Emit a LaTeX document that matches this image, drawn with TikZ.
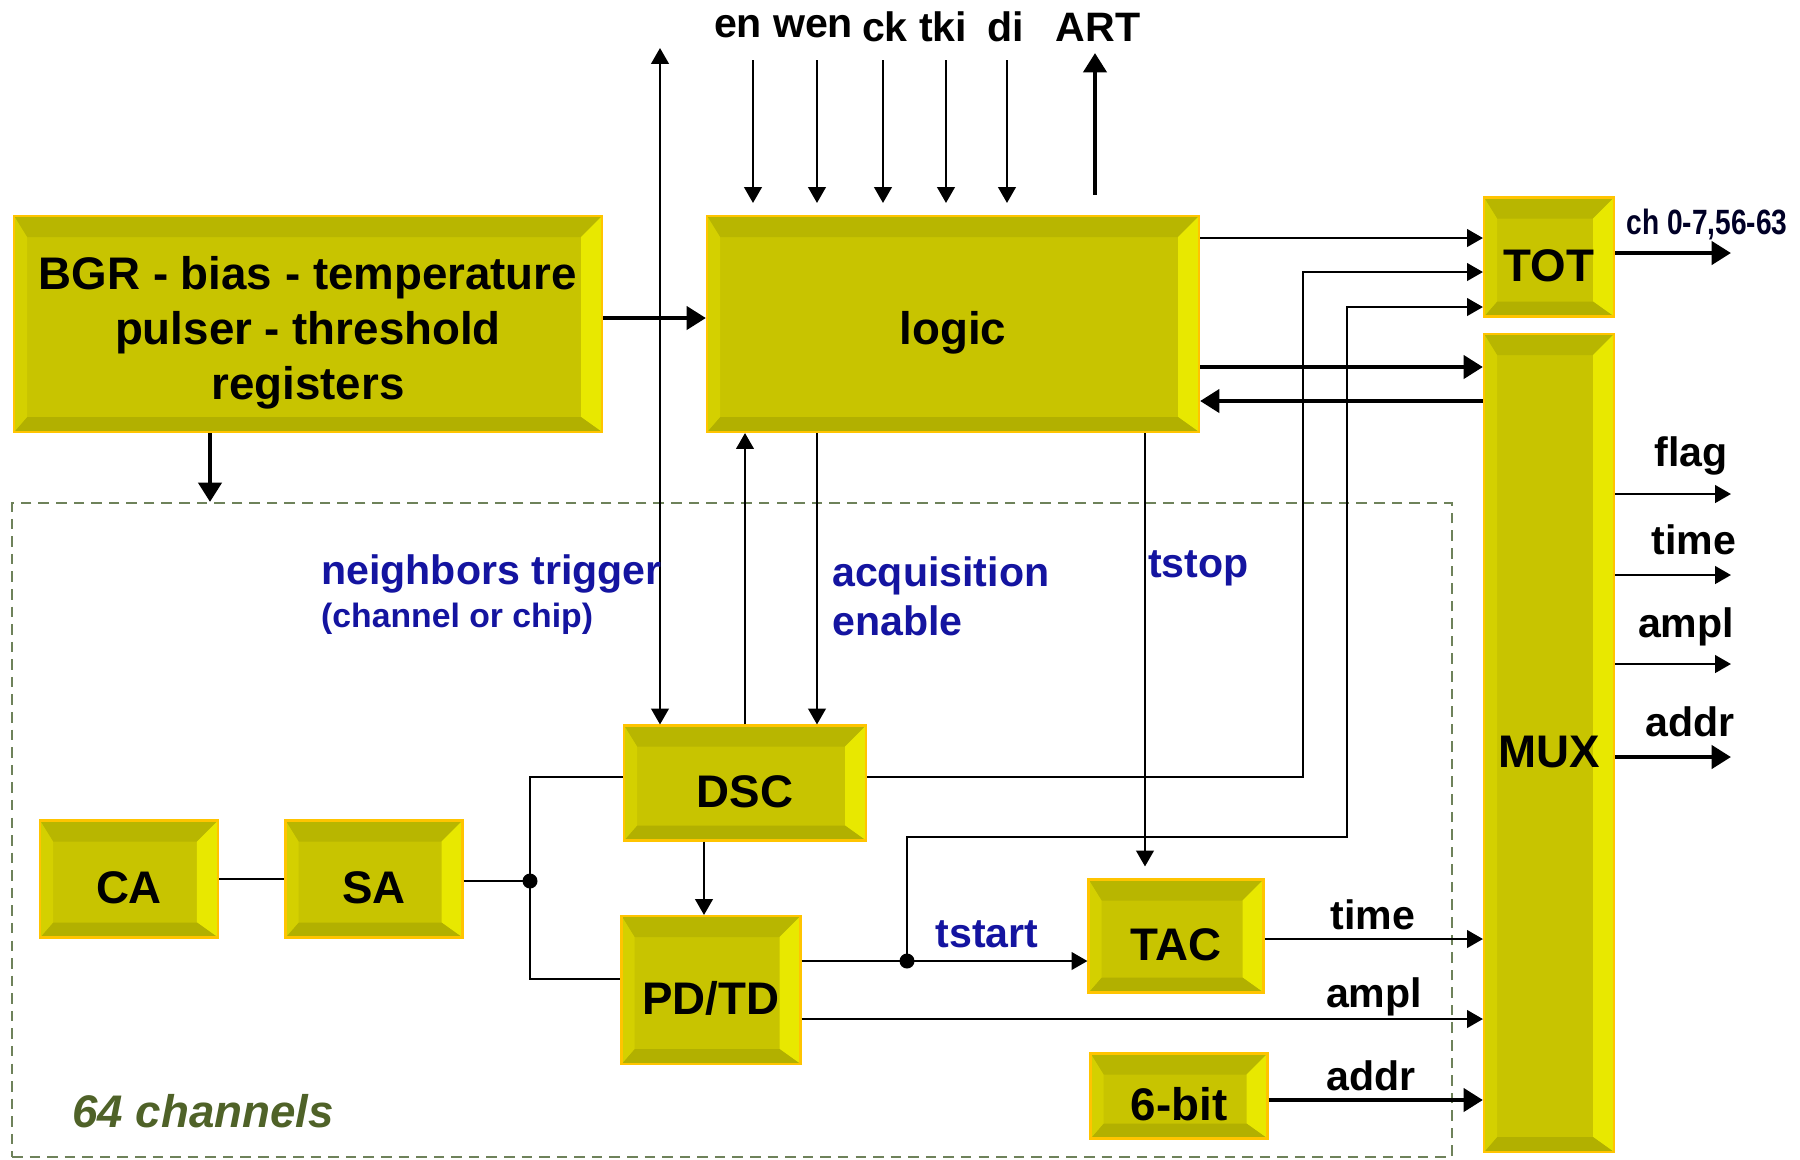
\documentclass[tikz,border=0pt]{standalone}
\usepackage{fontspec}
\setmainfont{Liberation Sans}
\newfontfamily\narrowfont[FakeStretch=0.8]{Liberation Sans}
\usepackage{tikz}
\usetikzlibrary{arrows.meta, positioning, calc}

\definecolor{bvface}{RGB}{200,196,0}
\definecolor{bvtop}{RGB}{184,182,0}
\definecolor{bvright}{RGB}{232,232,0}
\definecolor{bvleft}{RGB}{212,208,0}
\definecolor{bvbot}{RGB}{178,176,0}
\definecolor{bvedge}{RGB}{255,196,0}
\definecolor{sigblue}{RGB}{20,20,160}
\definecolor{chgreen}{RGB}{79,98,40}
\definecolor{dashgreen}{RGB}{110,130,90}

\begin{document}
\begin{tikzpicture}[
  blk/.style={fill=bvface, draw=bvedge, line width=0.6pt, inner sep=0pt, align=center,
    font=\fontsize{13}{15.6}\selectfont\bfseries,
    execute at begin node={\rule{0pt}{1.1em}},
    path picture={
      \path (path picture bounding box.south west) coordinate (b1)
            (path picture bounding box.north east) coordinate (b2)
            ($(b1)+(0.13,0.15)$) coordinate (i1)
            ($(b2)+(-0.21,-0.21)$) coordinate (i2);
      \fill[bvtop] (b1 |- b2) -- (b2) -- (i2) -- (i1 |- i2) -- cycle;
      \fill[bvright] (b2) -- (b2 |- b1) -- (i2 |- i1) -- (i2) -- cycle;
      \fill[bvbot] (b2 |- b1) -- (b1) -- (i1) -- (i2 |- i1) -- cycle;
      \fill[bvleft] (b1) -- (b1 |- b2) -- (i1 |- i2) -- (i1) -- cycle;
    }},
  wire/.style={line width=0.6pt},
  arr/.style={-{Triangle[length=4.5pt,width=5pt]}, line width=0.6pt},
  thkarr/.style={-{Triangle[length=5.5pt,width=6.5pt]}, line width=1.3pt},
  dblarr/.style={{Triangle[length=4.5pt,width=5pt]}-{Triangle[length=4.5pt,width=5pt]}, line width=0.6pt},
  siglbl/.style={font=\fontsize{11.7}{14}\selectfont\bfseries, inner sep=1pt},
  bluelbl/.style={siglbl, text=sigblue, align=left},
  chanbox/.style={draw=dashgreen, dash pattern=on 3pt off 2pt, line width=0.6pt, inner sep=0pt},
]
\useasboundingbox (0,0) rectangle (18,-11.59);

% channel area
\node[chanbox, minimum width=14.40cm, minimum height=6.54cm] (chan) at (7.32,-8.30) {};
\node[font=\fontsize{13}{15}\selectfont\bfseries\itshape, text=chgreen, anchor=west] (nch) at (0.60,-11.11) {64 channels};

% blocks
\node[blk, minimum width=5.88cm, minimum height=2.16cm] (bgr) at (3.08,-3.24) {\rule{0pt}{1.1em}BGR - bias - temperature\\pulser - threshold\\registers};
\node[blk, minimum width=4.92cm, minimum height=2.16cm] (logic) at (9.53,-3.24) {logic};
\node[blk, minimum width=1.30cm, minimum height=1.19cm] (tot) at (15.49,-2.57) {TOT};
\node[blk, minimum width=1.30cm, minimum height=8.18cm] (mux) at (15.49,-7.43) {MUX};
\node[blk, minimum width=2.42cm, minimum height=1.15cm] (dsc) at (7.45,-7.83) {DSC};
\node[blk, minimum width=1.78cm, minimum height=1.17cm] (ca) at (1.29,-8.79) {CA};
\node[blk, minimum width=1.77cm, minimum height=1.17cm] (sa) at (3.74,-8.79) {SA};
\node[blk, minimum width=1.79cm, minimum height=1.48cm] (pdtd) at (7.11,-9.90) {PD/TD};
\node[blk, minimum width=1.75cm, minimum height=1.13cm] (tac) at (11.76,-9.36) {TAC};
\node[blk, minimum width=1.77cm, minimum height=0.85cm] (sixbit) at (11.79,-10.96) {6-bit};

% interface signals
\foreach \sig/\lx/\ax in {en/7.38/7.53, wen/8.13/8.17, ck/8.85/8.83, tki/9.43/9.46, di/10.06/10.07} {
  \node[siglbl] (\sig) at (\lx,-0.27) {\sig};
  \coordinate (\sig top) at (\ax,-0.60);
  \draw[arr, shorten >=0.12cm] (\sig top) -- (\sig top |- logic.north);
}
\node[siglbl] (art) at (10.98,-0.27) {ART};
\coordinate (arttop) at (10.95,-0.53);
\draw[thkarr, shorten <=0.2cm] (arttop |- logic.north) -- (arttop);

% top level connections
\draw[thkarr] ([yshift=0.6mm]bgr.east) -- ([yshift=0.6mm]logic.west);
\draw[thkarr] (2.10,0 |- bgr.south) -- (2.10,0 |- chan.north);
\draw[arr] (logic.east |- 0,-2.38) -- (tot.west |- 0,-2.38);
\draw[thkarr] (logic.east |- 0,-3.67) -- (mux.west |- 0,-3.67);
\draw[thkarr] (mux.west |- 0,-4.01) -- (logic.east |- 0,-4.01);
\draw[thkarr] (tot.east |- 0,-2.53) -- (17.31,-2.53);
\node[font=\narrowfont\fontsize{10}{12}\selectfont\bfseries, text=black!85!blue] (chlbl) at (17.07,-2.24) {ch 0-7,56-63};

% mux outputs
\foreach \y/\ly/\lx/\out in {-4.94/-4.56/16.91/flag, -5.75/-5.40/16.94/time, -6.64/-6.27/16.86/ampl} {
  \draw[arr] (mux.east |- 0,\y) -- (17.31,\y);
  \node[siglbl] (out\out) at (\lx,\ly) {\out};
}
\draw[thkarr] (mux.east |- 0,-7.57) -- (17.31,-7.57);
\node[siglbl] (outaddr) at (16.90,-7.22) {addr};

% logic <-> channel
\draw[dblarr] (6.60,-0.48) -- (6.60,0 |- dsc.north);
\draw[arr] (dsc.north) -- (dsc.north |- logic.south);
\draw[arr] (8.17,0 |- logic.south) -- (8.17,0 |- dsc.north);
\draw[arr, shorten >=0.12cm] (11.45,0 |- logic.south) -- (11.45,0 |- tac.north);
\node[bluelbl, anchor=west] (nbtrig) at (3.17,-5.74) {neighbors trigger};
\node[bluelbl, anchor=west, font=\fontsize{9.6}{11}\selectfont\bfseries] (nbsub) at (3.17,-6.19) {(channel or chip)};
\node[bluelbl, anchor=west] (acq) at (8.28,-5.96) {acquisition\\enable};
\node[bluelbl, anchor=west] (tstop) at (11.44,-5.68) {tstop};

% channel chain
\coordinate (sdot) at (5.30,-8.81);
\coordinate (tdot) at (9.07,-9.61);
\draw[wire] (ca) -- (sa);
\draw[wire] (sa.east |- sdot) -- (sdot);
\draw[wire] (dsc.west |- 0,-7.77) -| (sdot) |- (pdtd.west |- 0,-9.79);
\fill (sdot) circle (0.075);
\draw[arr] (7.04,0 |- dsc.south) -- (7.04,0 |- pdtd.north);
\draw[arr] (pdtd.east |- tdot) -- (tac.west |- tdot);
\fill (tdot) circle (0.075);
\node[bluelbl] (tstart) at (9.87,-9.34) {tstart};
\draw[arr] (dsc.east |- 0,-7.77) -| (13.03,-2.72) -- (tot.west |- 0,-2.72);
\draw[arr] (tdot) |- (13.47,-8.37) |- (tot.west |- 0,-3.07);

% into mux
\draw[arr] (tac.east |- 0,-9.39) -- (mux.west |- 0,-9.39);
\node[siglbl] (tlbl) at (13.73,-9.15) {time};
\draw[arr] (pdtd.east |- 0,-10.19) -- (mux.west |- 0,-10.19);
\node[siglbl] (albl) at (13.74,-9.97) {ampl};
\draw[thkarr] (sixbit.east |- 0,-11.00) -- (mux.west |- 0,-11.00);
\node[siglbl] (dlbl) at (13.71,-10.76) {addr};

\end{tikzpicture}
\end{document}
